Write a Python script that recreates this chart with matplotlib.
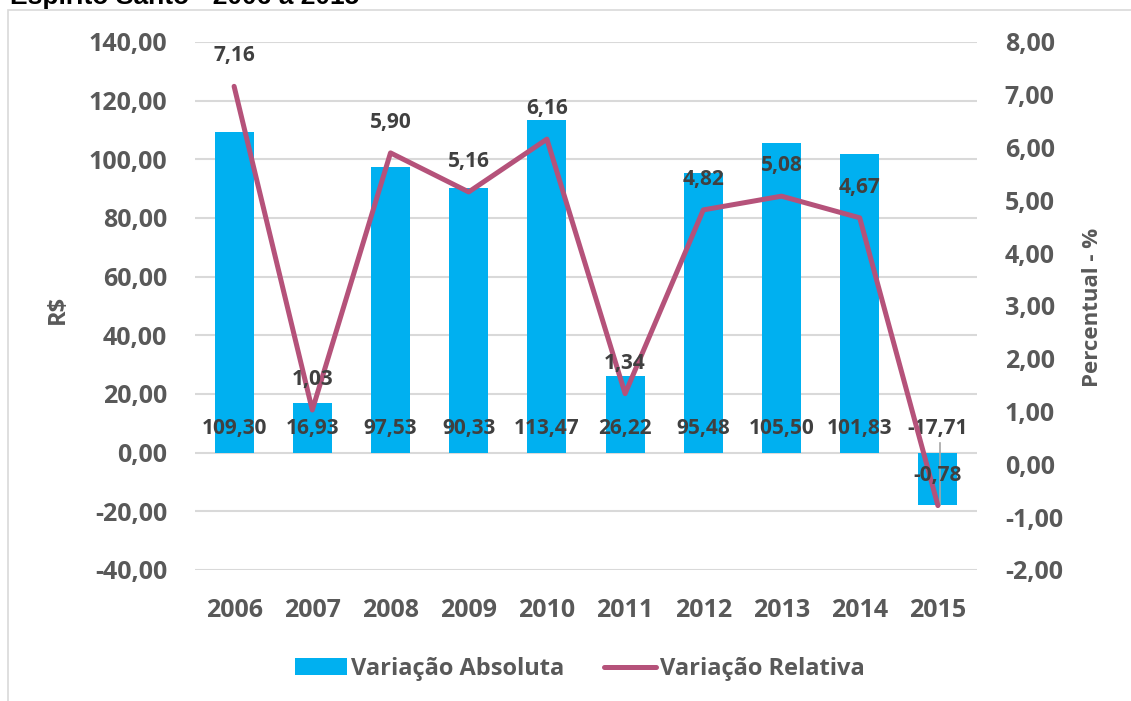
import matplotlib
matplotlib.use("Agg")
import matplotlib.pyplot as plt
from matplotlib.patches import Rectangle
from matplotlib.lines import Line2D
from matplotlib.patches import Patch

years = ["2006", "2007", "2008", "2009", "2010", "2011", "2012", "2013", "2014", "2015"]
var_abs = [109.30, 16.93, 97.53, 90.33, 113.47, 26.22, 95.48, 105.50, 101.83, -17.71]
var_rel = [7.16, 1.03, 5.90, 5.16, 6.16, 1.34, 4.82, 5.08, 4.67, -0.78]
left_ticks = [-40, -20, 0, 20, 40, 60, 80, 100, 120, 140]
right_ticks = [-2, -1, 0, 1, 2, 3, 4, 5, 6, 7, 8]

def br(v):
    return f"{v:.2f}".replace(".", ",")

BAR_C = "#00B0F0"
LINE_C = "#B5527A"
TICK_C = "#595959"
LAB_C = "#404040"
FONT = "Open Sans"

W, H = 1131, 701
fig = plt.figure(figsize=(W / 100, H / 100), dpi=100)
ax = fig.add_axes([195 / W, (H - 570) / H, (977 - 195) / W, (570 - 42) / H])
ax2 = ax.twinx()

x = list(range(len(years)))
ax.bar(x, var_abs, width=0.5, color=BAR_C, zorder=2)
ax.set_xlim(-0.5, len(years) - 0.5)
ax.set_ylim(-40, 140)
ax.set_yticks(left_ticks)
ax.set_yticklabels([br(v) for v in left_ticks])
ax.set_xticks(x)
ax.set_xticklabels(years)
ax.grid(axis="y", color="#D9D9D9", lw=1.5, zorder=0)
ax.set_axisbelow(True)
for s in ax.spines.values():
    s.set_visible(False)
for s in ax2.spines.values():
    s.set_visible(False)
ax.tick_params(axis="both", length=0, colors=TICK_C)
ax.tick_params(axis="y", pad=20)
ax.tick_params(axis="x", pad=20)
for t in ax.get_yticklabels() + ax.get_xticklabels():
    t.set_fontfamily(FONT)
    t.set_fontweight("bold")
    t.set_fontsize(18)

ax2.plot(x, var_rel, color=LINE_C, lw=3.6, solid_capstyle="round",
         solid_joinstyle="round", zorder=3)
ax2.set_ylim(-2, 8)
ax2.set_yticks(right_ticks)
ax2.set_yticklabels([br(v) for v in right_ticks])
ax2.tick_params(axis="y", length=0, colors=TICK_C, pad=20)
for t in ax2.get_yticklabels():
    t.set_fontfamily(FONT)
    t.set_fontweight("bold")
    t.set_fontsize(18)
    t.set_horizontalalignment("left")

# leader line for the negative bar label
ax.plot([x[-1] + 0.03, x[-1] + 0.03], [3.4, var_abs[-1]], color="#A6A6A6",
        lw=1.2, zorder=2.5)

# bar labels
for xi, v in zip(x, var_abs):
    ax.annotate(br(v), xy=(xi, 0), xytext=(0, 17.5), textcoords="offset points",
                ha="center", va="center", fontsize=15, fontweight="bold",
                fontfamily=FONT, color=LAB_C, zorder=5)

# line labels
for xi, v in zip(x, var_rel):
    ax2.annotate(br(v), xy=(xi, v), xytext=(0, 22), textcoords="offset points",
                 ha="center", va="center", fontsize=15, fontweight="bold",
                 fontfamily=FONT, color=LAB_C, zorder=6)

fig.text(58 / W, 1 - 309 / H, "R$", rotation=90, ha="center", va="center",
         fontsize=17, fontweight="bold", fontfamily=FONT, color=TICK_C)
fig.text(1093 / W, 1 - 307 / H, "Percentual - %", rotation=90, ha="center",
         va="center", fontsize=16, fontweight="bold", fontfamily=FONT,
         color=TICK_C)

handles = [Patch(facecolor=BAR_C, edgecolor="none"),
           Line2D([0], [0], color=LINE_C, lw=3.6, solid_capstyle="round")]
leg = fig.legend(handles, ["Variação Absoluta", "Variação Relativa"],
                 loc="center", bbox_to_anchor=(580 / W, 1 - 669 / H), ncol=2,
                 frameon=False, handlelength=2.2, handletextpad=0.15,
                 columnspacing=1.7, prop={"family": FONT, "weight": "bold",
                                          "size": 17})
for t in leg.get_texts():
    t.set_color(TICK_C)

# chart area frame and clipped title
fig.patches.append(Rectangle((8 / W, -0.05), 1.2, (H - 10) / H + 0.05,
                             transform=fig.transFigure, fill=False,
                             edgecolor="#D9D9D9", lw=1.2))
fig.text(10 / W, 1 - 4 / H, "Espírito Santo - 2006 a 2015", ha="left",
         va="baseline", fontsize=19, fontweight="bold",
         fontfamily="Liberation Sans", color="black")

fig.savefig("out.png", dpi=100)
